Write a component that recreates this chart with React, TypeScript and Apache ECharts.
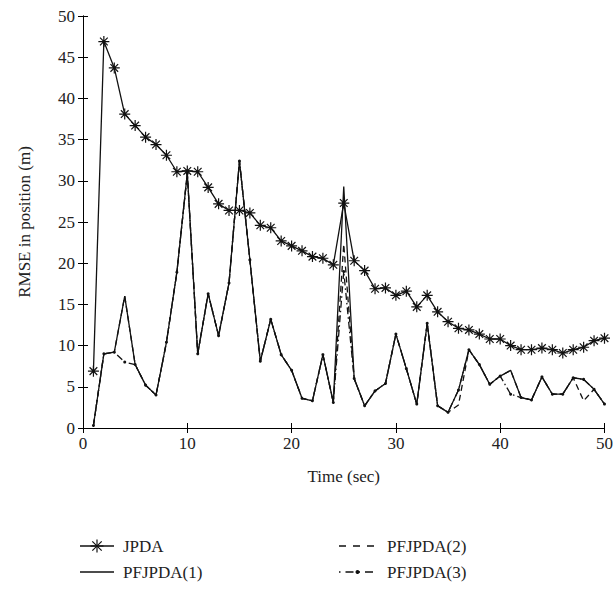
import React, { useEffect, useRef } from "react";
import * as echarts from "echarts";

const times: number[] = Array.from({ length: 50 }, (_, i) => i + 1);

const jpda: number[] = [
  6.9, 46.9, 43.7, 38.1, 36.7, 35.3, 34.4, 33.1, 31.1, 31.2,
  31.1, 29.2, 27.2, 26.4, 26.4, 26.1, 24.6, 24.3, 22.7, 22.1,
  21.5, 20.8, 20.6, 19.8, 27.3, 20.3, 19.1, 16.9, 17.0, 16.1,
  16.6, 14.7, 16.1, 14.1, 12.9, 12.1, 11.9, 11.4, 10.8, 10.8,
  10.0, 9.5, 9.5, 9.7, 9.5, 9.1, 9.5, 9.8, 10.6, 10.9,
];

const pf1: number[] = [
  0.3, 9.0, 9.2, 16.0, 7.7, 5.2, 4.0, 10.4, 18.9, 30.9,
  9.0, 16.3, 11.2, 17.6, 32.4, 20.4, 8.1, 13.2, 8.9, 7.0,
  3.6, 3.3, 8.9, 3.1, 29.3, 6.0, 2.7, 4.5, 5.4, 11.4,
  7.2, 2.9, 12.7, 2.7, 1.9, 4.6, 9.5, 7.7, 5.3, 6.3,
  7.0, 3.7, 3.4, 6.2, 4.1, 4.1, 6.1, 5.9, 4.7, 2.9,
];

const pf2: number[] = [
  0.3, 9.0, 9.2, 16.0, 7.7, 5.2, 4.0, 10.4, 18.9, 30.9,
  9.0, 16.3, 11.2, 17.6, 32.4, 20.4, 8.1, 13.2, 8.9, 7.0,
  3.6, 3.3, 8.9, 3.1, 22.3, 6.0, 2.7, 4.5, 5.4, 11.4,
  7.2, 2.9, 12.7, 2.7, 1.9, 2.8, 9.5, 7.7, 5.3, 6.3,
  7.0, 3.7, 3.4, 6.2, 4.1, 4.1, 6.1, 3.3, 4.7, 2.9,
];

const pf3: number[] = [
  0.3, 9.0, 9.2, 8.0, 7.7, 5.2, 4.0, 10.4, 18.9, 30.9,
  9.0, 16.3, 11.2, 17.6, 32.4, 20.4, 8.1, 13.2, 8.9, 7.0,
  3.6, 3.3, 8.9, 3.1, 19.0, 6.0, 2.7, 4.5, 5.4, 11.4,
  7.2, 2.9, 12.7, 2.7, 1.9, 4.6, 9.5, 7.7, 5.3, 6.3,
  4.1, 3.7, 3.4, 6.2, 4.1, 4.1, 6.1, 5.9, 4.7, 2.9,
];

const seriesNames: string[] = ["JPDA", "PFJPDA(1)", "PFJPDA(2)", "PFJPDA(3)"];

const STAR =
  "path://M0,-6 L0,6 M-6,0 L6,0 M-4.2,-4.2 L4.2,4.2 M-4.2,4.2 L4.2,-4.2";

const FONT = '"Liberation Serif", "DejaVu Serif", serif';
const INK = "#111";
const TXT = "#222";

function starLines(cx: number, cy: number, r: number) {
  const d = r * 0.72;
  const segs = [
    [0, -r, 0, r],
    [-r, 0, r, 0],
    [-d, -d, d, d],
    [-d, d, d, -d],
  ];
  return segs.map((s) => ({
    type: "line",
    shape: { x1: cx + s[0], y1: cy + s[1], x2: cx + s[2], y2: cy + s[3] },
    style: { stroke: INK, lineWidth: 1.2 },
  }));
}

function legendGraphics() {
  const L = { x1: 80, x2: 114, tx: 123 };
  const R = { x1: 339, x2: 374, tx: 387 };
  const r1 = 546;
  const r2 = 572;
  const text = (x: number, y: number, s: string) => ({
    type: "text",
    x,
    y,
    style: { text: s, fill: TXT, font: `17px ${FONT}`, textVerticalAlign: "middle", verticalAlign: "middle" },
  });
  const line = (a: number, b: number, y: number, dash?: number[]) => ({
    type: "line",
    shape: { x1: a, y1: y, x2: b, y2: y },
    style: { stroke: INK, lineWidth: 1.3, lineDash: dash || null },
  });
  return [
    line(L.x1, L.x2, r1),
    ...starLines((L.x1 + L.x2) / 2, r1, 6.5),
    text(L.tx, r1, seriesNames[0]),
    line(L.x1, L.x2, r2),
    text(L.tx, r2, seriesNames[1]),
    line(R.x1, R.x2, r1, [7, 7]),
    text(R.tx, r1, seriesNames[2]),
    line(R.x1, R.x2, r2, [1.5, 5, 8, 5]),
    { type: "circle", shape: { cx: (R.x1 + R.x2) / 2 + 1, cy: r2, r: 2 }, style: { fill: INK } },
    text(R.tx, r2, seriesNames[3]),
  ];
}

export default function App() {
  const ref = useRef<HTMLDivElement>(null);
  useEffect(() => {
    document.body.style.margin = "0";
    const chart = echarts.init(ref.current!, null, { renderer: "svg" });
    const pair = (arr: number[]) => times.map((t, i) => [t, arr[i]]);
    const tickStyle = { show: true, inside: true, length: 5, lineStyle: { color: "#000", width: 1 } };
    const axisLine = { show: true, lineStyle: { color: "#000", width: 1 } };
    chart.setOption({
      animation: false,
      backgroundColor: "#fff",
      textStyle: { fontFamily: FONT },
      grid: { left: 83, right: 7, top: 16, bottom: 169, containLabel: false },
      xAxis: [
        {
          type: "value", min: 0, max: 50, interval: 10, position: "bottom",
          axisLine, axisTick: tickStyle, splitLine: { show: false },
          axisLabel: { color: TXT, fontSize: 17, fontFamily: FONT, margin: 7 },
          name: "Time (sec)", nameLocation: "middle", nameGap: 40,
          nameTextStyle: { color: TXT, fontSize: 17, fontFamily: FONT },
        },
        {
          type: "value", min: 0, max: 50, interval: 10, position: "top",
          axisLine, axisTick: tickStyle, splitLine: { show: false },
          axisLabel: { show: false },
        },
      ],
      yAxis: [
        {
          type: "value", min: 0, max: 50, interval: 5, position: "left",
          axisLine, axisTick: tickStyle, splitLine: { show: false },
          axisLabel: { color: TXT, fontSize: 17, fontFamily: FONT, margin: 8 },
          name: "RMSE in position (m)", nameLocation: "middle", nameGap: 50,
          nameTextStyle: { color: TXT, fontSize: 17, fontFamily: FONT },
        },
        {
          type: "value", min: 0, max: 50, interval: 5, position: "right",
          axisLine, axisTick: tickStyle, splitLine: { show: false },
          axisLabel: { show: false },
        },
      ],
      graphic: legendGraphics(),
      series: [
        {
          name: seriesNames[1], type: "line", data: pair(pf1),
          symbol: "none", lineStyle: { color: INK, width: 1.3, type: "solid" },
          itemStyle: { color: INK },
        },
        {
          name: seriesNames[2], type: "line", data: pair(pf2),
          symbol: "none", lineStyle: { color: INK, width: 1.3, type: [6, 4] },
          itemStyle: { color: INK },
        },
        {
          name: seriesNames[3], type: "line", data: pair(pf3),
          symbol: "circle", symbolSize: 3,
          lineStyle: { color: INK, width: 1.3, type: [7, 3, 1.5, 3] },
          itemStyle: { color: INK },
        },
        {
          name: seriesNames[0], type: "line", data: pair(jpda),
          symbol: STAR, symbolSize: 11,
          lineStyle: { color: INK, width: 1.3 },
          itemStyle: { color: INK, borderColor: INK, borderWidth: 1.2 },
        },
      ],
    });
    return () => chart.dispose();
  }, []);
  return <div ref={ref} style={{ width: 616, height: 597 }} />;
}
